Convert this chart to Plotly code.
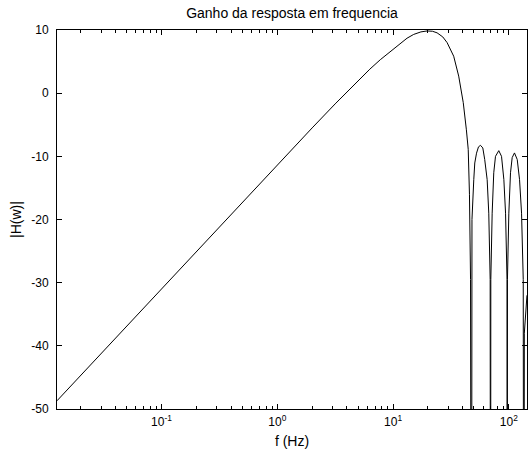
import plotly.graph_objects as go

# Frequency (Hz) and gain (dB)
freq_hz = [
    0.0125, 0.0316, 0.1, 0.316, 1.0, 2.0, 3.16, 5.0, 6.3, 7.76, 9.46, 11.56, 13.2,
    15.07, 17.4, 19.7, 21.9, 24.0, 26.9, 29.3, 33.4, 36.9, 40.4, 43.0, 44.6, 45.7,
    46.7,
    47.5,
    47.7, 48.05, 49.8, 50.8, 52.6, 54.7, 56.9, 59.6, 61.9, 65.0, 67.1, 69.0,
    69.5,
    69.9, 71.8, 74.1, 76.7, 81.9, 86.5, 90.6, 93.7, 96.5,
    96.8,
    97.3, 100.0, 103.4, 106.9, 111.9, 118.2, 123.8, 128.8, 133.2,
    134.9,
    136.1, 143.5,
]
gain_db = [
    -48.7, -40.8, -31.0, -21.2, -11.3, -5.5, -1.7, 2.0, 3.8, 5.3, 6.55, 7.85, 8.7,
    9.3, 9.7, 9.85, 9.8, 9.55, 8.9, 8.0, 5.85, 2.7, -1.5, -5.8, -8.9, -16.0,
    -29.5,
    -120.0,
    -29.5, -20.0, -13.7, -11.05, -9.5, -8.5, -8.26, -8.67, -10.5, -13.7, -19.0, -29.5,
    -120.0,
    -29.5, -19.0, -12.6, -10.0, -9.1, -10.0, -13.7, -19.0, -29.5,
    -120.0,
    -29.5, -19.0, -12.6, -10.2, -9.46, -10.5, -13.7, -19.0, -29.5,
    -120.0,
    -38.0, -32.0,
]

x_tick_vals = [0.1, 1, 10, 100]
x_tick_text = ["10<sup>-1</sup>", "10<sup>0</sup>", "10<sup>1</sup>", "10<sup>2</sup>"]
y_tick_vals = [-50, -40, -30, -20, -10, 0, 10]
y_tick_text = ["-50", "-40", "-30", "-20", "-10", "0", "10"]
minor_vals = [m * d for d in (0.01, 0.1, 1, 10) for m in range(2, 10)]

fig = go.Figure()
fig.add_trace(go.Scatter(
    x=freq_hz, y=gain_db, mode="lines",
    line=dict(color="#000000", width=1),
    showlegend=False, hoverinfo="skip",
))

font = dict(family="Liberation Sans, Arial, sans-serif", size=12, color="#000000")

fig.update_layout(
    width=530, height=455,
    margin=dict(l=57, r=3, t=30, b=46),
    paper_bgcolor="white", plot_bgcolor="white",
    font=font,
    title=dict(text="Ganho da resposta em frequencia", xref="paper", x=0.5,
               xanchor="center", yref="container", y=1 - 13 / 455,
               yanchor="middle", font=dict(size=14)),
    xaxis=dict(
        type="log", range=[-1.903, 2.157], automargin=False,
        tickmode="array", tickvals=x_tick_vals, ticktext=x_tick_text,
        ticks="inside", ticklen=5, tickcolor="#000000", tickwidth=1,
        minor=dict(tickmode="array", tickvals=minor_vals, ticks="inside",
                   ticklen=3, tickcolor="#000000", tickwidth=1, showgrid=False),
        showline=True, linecolor="#000000", linewidth=1, mirror="allticks",
        showgrid=False, zeroline=False,
        title=dict(text="f (Hz)", standoff=7, font=dict(size=14)),
        ticklabelstandoff=2,
    ),
    yaxis=dict(
        range=[-50, 10], automargin=False,
        tickmode="array", tickvals=y_tick_vals, ticktext=y_tick_text,
        ticks="inside", ticklen=5, tickcolor="#000000", tickwidth=1,
        showline=True, linecolor="#000000", linewidth=1, mirror="allticks",
        showgrid=False, zeroline=False,
        title=dict(text="|H(w)|", standoff=6, font=dict(size=14)),
        ticklabelstandoff=5,
    ),
)

fig.write_html("out.html", config={"displayModeBar": False},
               post_script="document.body.style.margin='0';")
